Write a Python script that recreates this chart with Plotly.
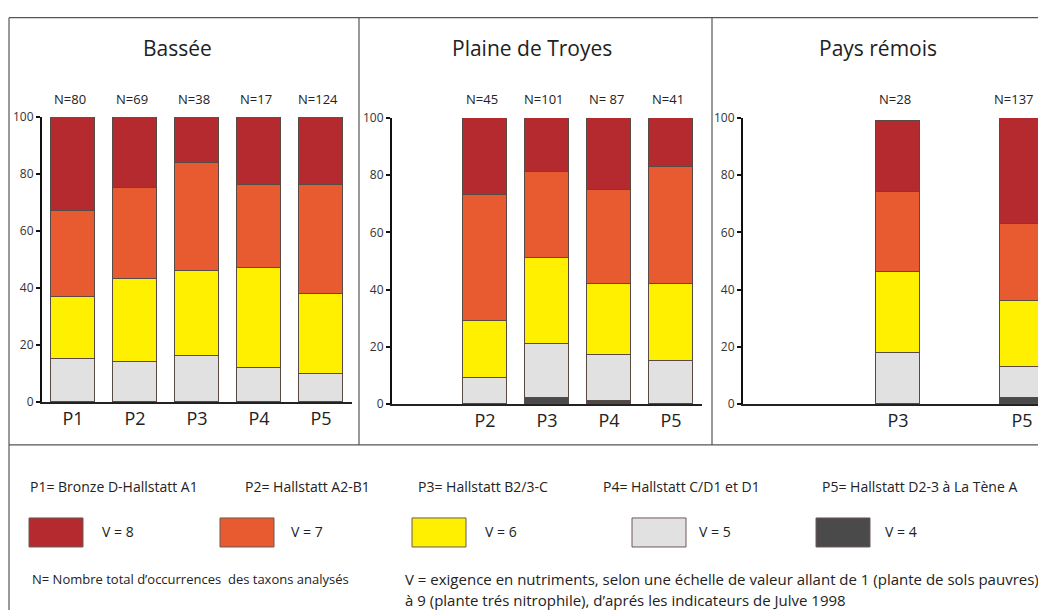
import plotly.graph_objects as go

# ---- data (percent of occurrences per nutrient value V) ----
periods = ["P1", "P2", "P3", "P4", "P5"]
regions = ["Bassée", "Plaine de Troyes", "Pays rémois"]
v_levels = ["V = 4", "V = 5", "V = 6", "V = 7", "V = 8"]

bassee_periods = ["P1", "P2", "P3", "P4", "P5"]
bassee_v4 = [0, 0, 0, 0, 0]
bassee_v5 = [15, 14, 16, 12, 10]
bassee_v6 = [22, 29, 30, 35, 28]
bassee_v7 = [30, 32, 38, 29, 38]
bassee_v8 = [33, 25, 16, 24, 24]
bassee_n = ["N=80", "N=69", "N=38", "N=17", "N=124"]

troyes_periods = ["P2", "P3", "P4", "P5"]
troyes_v4 = [0, 2, 1, 0]
troyes_v5 = [9, 19, 16, 15]
troyes_v6 = [20, 30, 25, 27]
troyes_v7 = [44, 30, 33, 41]
troyes_v8 = [27, 19, 25, 17]
troyes_n = ["N=45", "N=101", "N= 87", "N=41"]

remois_periods = ["P3", "P5"]
remois_v4 = [0, 2]
remois_v5 = [18, 11]
remois_v6 = [28, 23]
remois_v7 = [28, 27]
remois_v8 = [25, 37]
remois_n = ["N=28", "N=137"]

period_names = ["P1= Bronze D-Hallstatt A1", "P2= Hallstatt A2-B1", "P3= Hallstatt B2/3-C",
                "P4= Hallstatt C/D1 et D1", "P5= Hallstatt D2-3 à La Tène A"]
note_n = "N= Nombre total d’occurrences  des taxons analysés"
note_v1 = "V = exigence en nutriments, selon une échelle de valeur allant de 1 (plante de sols pauvres)"
note_v2 = "à 9 (plante trés nitrophile), d’aprés les indicateurs de Julve 1998"

colors = {"V = 4": "#4a4a4a", "V = 5": "#e2e1e1", "V = 6": "#fff000",
          "V = 7": "#e85a30", "V = 8": "#b42a2f"}

# the page body has an 8px margin; the photo also squeezes the page a little vertically,
# so target pixel positions are converted to figure coordinates here
W, H = 1038, 610
FONT = "Open Sans, Noto Sans, sans-serif"


def px(x):
    return (x - 8) / W


def py(y):
    fy = max((y - 17.1) / 0.972, 0.7)
    return 1 - fy / H


panels = [
    (bassee_periods, [bassee_v4, bassee_v5, bassee_v6, bassee_v7, bassee_v8], bassee_n),
    (troyes_periods, [troyes_v4, troyes_v5, troyes_v6, troyes_v7, troyes_v8], troyes_n),
    (remois_periods, [remois_v4, remois_v5, remois_v6, remois_v7, remois_v8], remois_n),
]
# pixel boxes of each plot area: x_left, x_right, y_top(100), y_bottom(0)
boxes = [(42, 352, 117, 402), (392, 702, 118, 404), (743, 1046, 118, 404)]
title_x = [177, 532, 878]

fig = go.Figure()
annotations = []
for i, (per, vals, nlab) in enumerate(panels):
    k = "" if i == 0 else str(i + 1)
    xpos = [periods.index(p) for p in per]
    for lvl, v in zip(v_levels, vals):
        fig.add_trace(go.Bar(
            x=xpos, y=v, width=0.72, name=lvl, showlegend=False,
            marker=dict(color=colors[lvl], line=dict(color="#5a4a46", width=1)),
            xaxis="x" + k, yaxis="y" + k, hoverinfo="y",
        ))
    for xp, t in zip(xpos, nlab):
        # the bar cut by the right edge gets its label nudged inwards
        shift = -8 if (i == 2 and xp == 4) else -3
        annotations.append(dict(x=xp, y=py(99), xref="x" + k, yref="paper", text=t, xshift=shift,
                                xanchor="center", yanchor="middle", showarrow=False,
                                font=dict(size=13, color="#222", family=FONT)))
    annotations.append(dict(x=px(title_x[i]), y=py(48), xref="paper", yref="paper", text=regions[i],
                            xanchor="center", yanchor="middle", showarrow=False,
                            font=dict(size=21, color="#222", family=FONT)))
    x0, x1, yt, yb = boxes[i]
    nunits = (x1 - x0) / 62.0
    fig.update_layout(**{
        "xaxis" + k: dict(domain=[px(x0), px(x1)], range=[-0.5, -0.5 + nunits],
                          tickvals=xpos, ticktext=per, showline=True, linecolor="#222",
                          linewidth=1.5, ticks="", showgrid=False, zeroline=False,
                          anchor="y" + k, tickfont=dict(size=18, color="#222", family=FONT),
                          fixedrange=True),
        "yaxis" + k: dict(domain=[py(yb), py(yt)], range=[0, 100], tickvals=[0, 20, 40, 60, 80, 100],
                          showline=True, linecolor="#111", linewidth=2, ticks="outside", ticklen=4,
                          tickwidth=1.5, tickcolor="#111", showgrid=False, zeroline=False,
                          anchor="x" + k, tickfont=dict(size=12, color="#333", family=FONT),
                          fixedrange=True),
    })

# frame lines
line = dict(color="#555", width=1.2)
shapes = [
    dict(type="line", xref="paper", yref="paper", x0=px(9), x1=1, y0=py(13), y1=py(13), line=line),
    dict(type="line", xref="paper", yref="paper", x0=px(9), x1=px(9), y0=py(13), y1=0, line=line),
    dict(type="line", xref="paper", yref="paper", x0=px(359), x1=px(359), y0=py(13), y1=py(445), line=line),
    dict(type="line", xref="paper", yref="paper", x0=px(712), x1=px(712), y0=py(13), y1=py(445), line=line),
    dict(type="line", xref="paper", yref="paper", x0=px(9), x1=1, y0=py(445), y1=py(445), line=line),
]

# legend block
name_x = [28, 243, 416, 601, 820]
for t, x in zip(period_names, name_x):
    annotations.append(dict(x=px(x), y=py(487), xref="paper", yref="paper", text=t,
                            xanchor="left", yanchor="middle", showarrow=False,
                            font=dict(size=14, color="#222", family=FONT)))
sw_x = [29, 220, 412, 632, 816]
lab_x = [100, 289, 483, 697, 883]
for lvl, x, lx in zip(["V = 8", "V = 7", "V = 6", "V = 5", "V = 4"], sw_x, lab_x):
    shapes.append(dict(type="rect", xref="paper", yref="paper", x0=px(x), x1=px(x + 54),
                       y0=py(547), y1=py(518), fillcolor=colors[lvl],
                       line=dict(color="#6a5a56", width=1)))
    annotations.append(dict(x=px(lx), y=py(532), xref="paper", yref="paper", text=lvl,
                            xanchor="left", yanchor="middle", showarrow=False,
                            font=dict(size=14, color="#222", family=FONT)))
for t, x, y, s in [(note_n, 30, 579, 13), (note_v1, 403, 579, 15), (note_v2, 403, 600, 15)]:
    annotations.append(dict(x=px(x), y=py(y), xref="paper", yref="paper", text=t,
                            xanchor="left", yanchor="middle", showarrow=False,
                            font=dict(size=s, color="#222", family=FONT)))

fig.update_layout(
    width=W, height=H, margin=dict(l=0, r=0, t=0, b=0),
    barmode="stack", bargap=0, plot_bgcolor="white", paper_bgcolor="white",
    shapes=shapes, annotations=annotations, font=dict(family=FONT),
)
fig.write_html("out.html")
